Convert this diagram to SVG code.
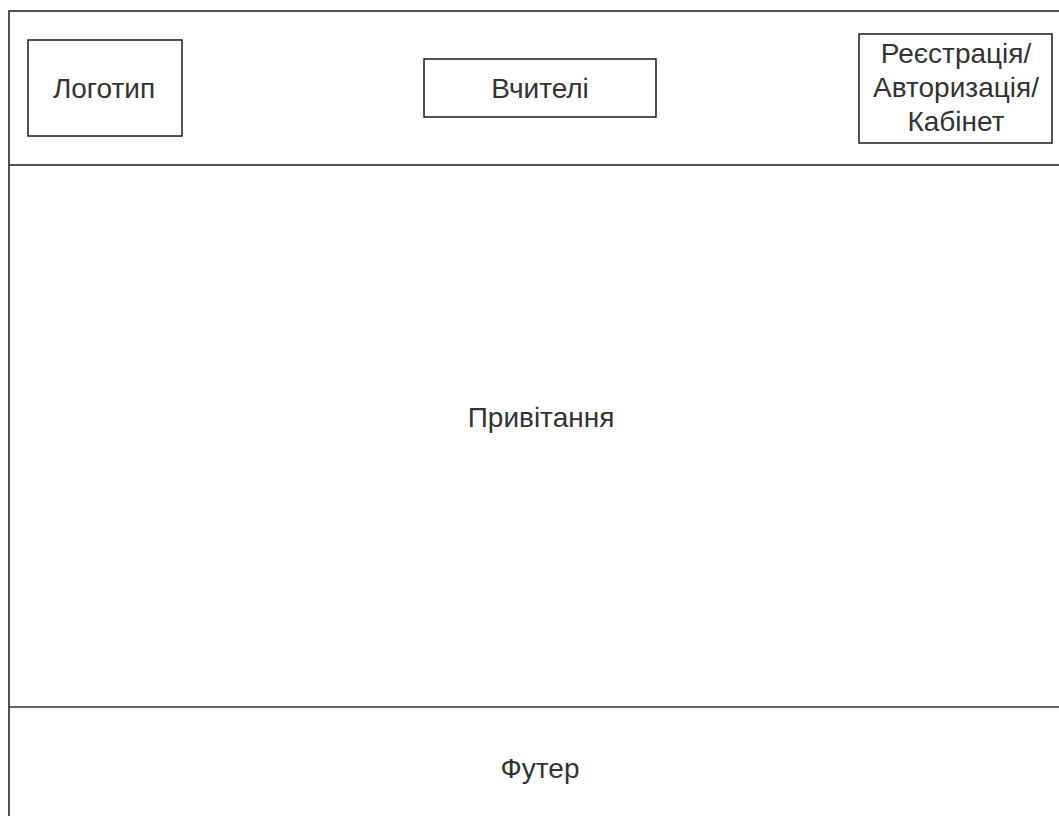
<svg xmlns="http://www.w3.org/2000/svg" width="1059" height="816" viewBox="0 0 1059 816">
<style>
.box{fill:#fff;stroke:#1a1a1a;stroke-width:1.5}
.t{font-family:"Liberation Sans",Arial,sans-serif;font-size:28px;fill:#333;text-anchor:middle}
</style>
<rect width="1059" height="816" fill="#fff"/>
<g id="frame">
<rect class="box" x="9" y="11" width="1062" height="820"/>
</g>
<g id="header">
<line x1="9" y1="165" x2="1071" y2="165" stroke="#1a1a1a" stroke-width="1.5"/>
</g>
<g id="footer">
<line x1="9" y1="707" x2="1071" y2="707" stroke="#333" stroke-width="1.5"/>
<text class="t" x="540" y="778">Футер</text>
</g>
<g id="logo">
<rect class="box" x="28" y="40" width="154" height="96"/>
<text class="t" x="104" y="98">Логотип</text>
</g>
<g id="teachers">
<rect class="box" x="424" y="59" width="232" height="58"/>
<text class="t" x="540" y="98">Вчителі</text>
</g>
<g id="auth">
<rect class="box" x="859" y="34" width="193" height="109" stroke="#555" stroke-width="2"/>
<text class="t" x="956" y="63">Реєстрація/</text>
<text class="t" x="956" y="97">Авторизація/</text>
<text class="t" x="956" y="131">Кабінет</text>
</g>
<g id="greeting">
<text class="t" x="541" y="427">Привітання</text>
</g>
<g id="connectors"/>
</svg>
